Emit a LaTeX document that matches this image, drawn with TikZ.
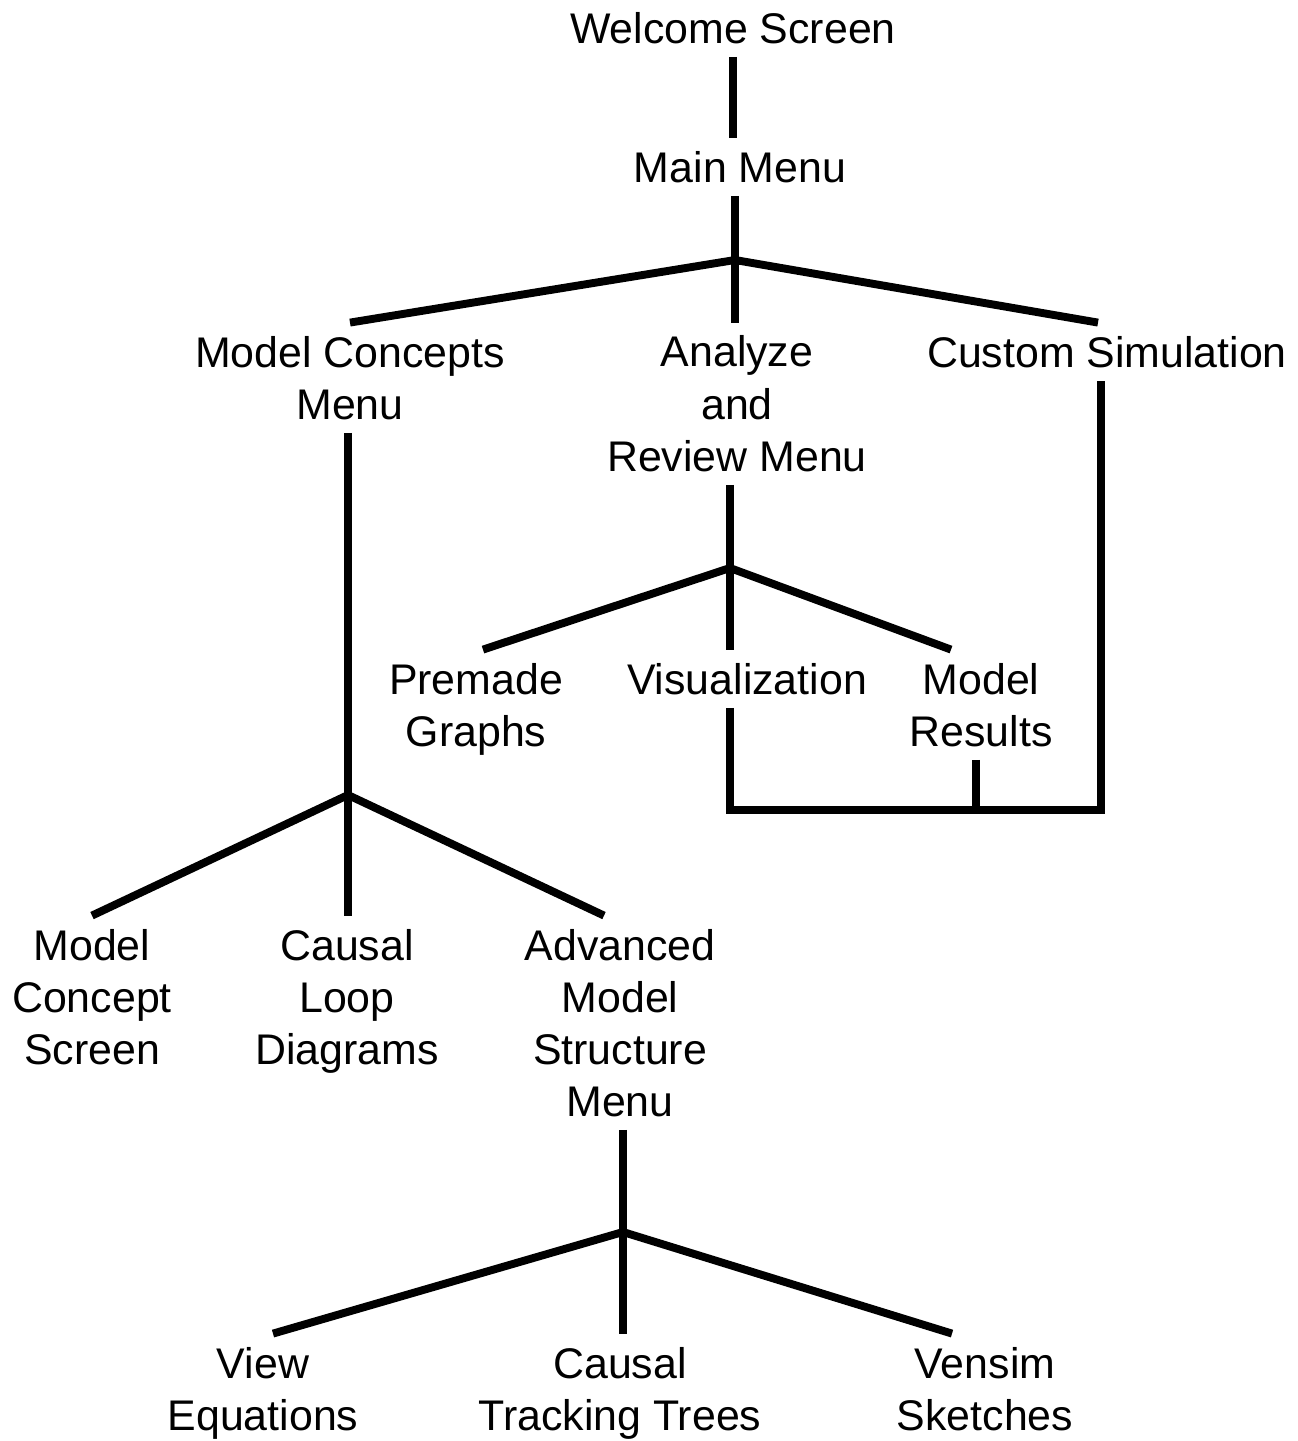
\documentclass[tikz,border=0pt]{standalone}
\usepackage{fontspec}
\setmainfont{Liberation Sans}
\tikzset{
  % screen labels and the links between them
  screen node/.style={align=center,inner sep=0.26cm,anchor=base,
    font=\fontsize{24.4}{29.6}\selectfont},
  link/.style={draw,black,line width=4.5pt}
}

\begin{document}
\begin{tikzpicture}
[x=0.02cm,y=-0.02cm]
\useasboundingbox (0,0) rectangle (1298,1441);
% top of the menu tree (nodes sit on the baseline of their last line)
\node [screen node] (welcome) at (733,43) {Welcome Screen};
\node [screen node] (main) at (740,182) {Main Menu};
\node [screen node] (concepts) at (350,419) {Model Concepts\\Menu};
\node [screen node] (analyze) at (737,471) {Analyze\\and\\Review Menu};
\node [screen node] (custom) at (1107,367) {Custom Simulation};
% analyze branch
\node [screen node] (premade) at (476,746) {Premade\\Graphs};
\node [screen node] (visual) at (747,694) {Visualization};
\node [screen node] (results) at (981,746) {Model\\Results};
% concepts branch
\node [screen node] (concept) at (92,1064) {Model\\Concept\\Screen};
\node [screen node] (loops) at (347,1064) {Causal\\Loop\\Diagrams};
\node [screen node] (advanced) at (620,1116) {Advanced\\Model\\Structure\\Menu};
\node [screen node] (equations) at (263,1430) {View\\Equations};
\node [screen node] (tracking) at (620,1430) {Causal\\Tracking Trees};
\node [screen node] (sketches) at (985,1430) {Vensim\\Sketches};

\coordinate (mainfork) at (735,260);
\coordinate (analyzefork) at (730,568);
\coordinate (conceptsfork) at (348,795);
\coordinate (advancedfork) at (623,1232);
\coordinate (join) at (976,810);

\draw [link] (welcome.south) -- (welcome.south |- main.north);
\draw [link] (mainfork |- main.south) -- (mainfork) -- (mainfork |- analyze.north);
\draw [link] (concepts.north) -- (mainfork) -- ([xshift=-0.18cm]custom.north);

\draw [link] (analyzefork |- analyze.south) -- (analyzefork) -- (analyzefork |- visual.north);
\draw [link] ([xshift=0.14cm]premade.north) -- (analyzefork) -- ([xshift=-0.6cm]results.north);
\draw [link] (analyzefork |- visual.south) |- (join) -| ([xshift=-0.12cm]custom.south);
\draw [link] (join |- results.south) -- (join);

\draw [link] (conceptsfork |- concepts.south) -- (conceptsfork) -- (conceptsfork |- loops.north);
\draw [link] (concept.north) -- (conceptsfork) -- ([xshift=-0.32cm]advanced.north);

\draw [link] (advancedfork |- advanced.south) -- (advancedfork) -- (advancedfork |- tracking.north);
\draw [link] ([xshift=0.2cm]equations.north) -- (advancedfork) -- ([xshift=-0.66cm]sketches.north);
\end{tikzpicture}
\end{document}
